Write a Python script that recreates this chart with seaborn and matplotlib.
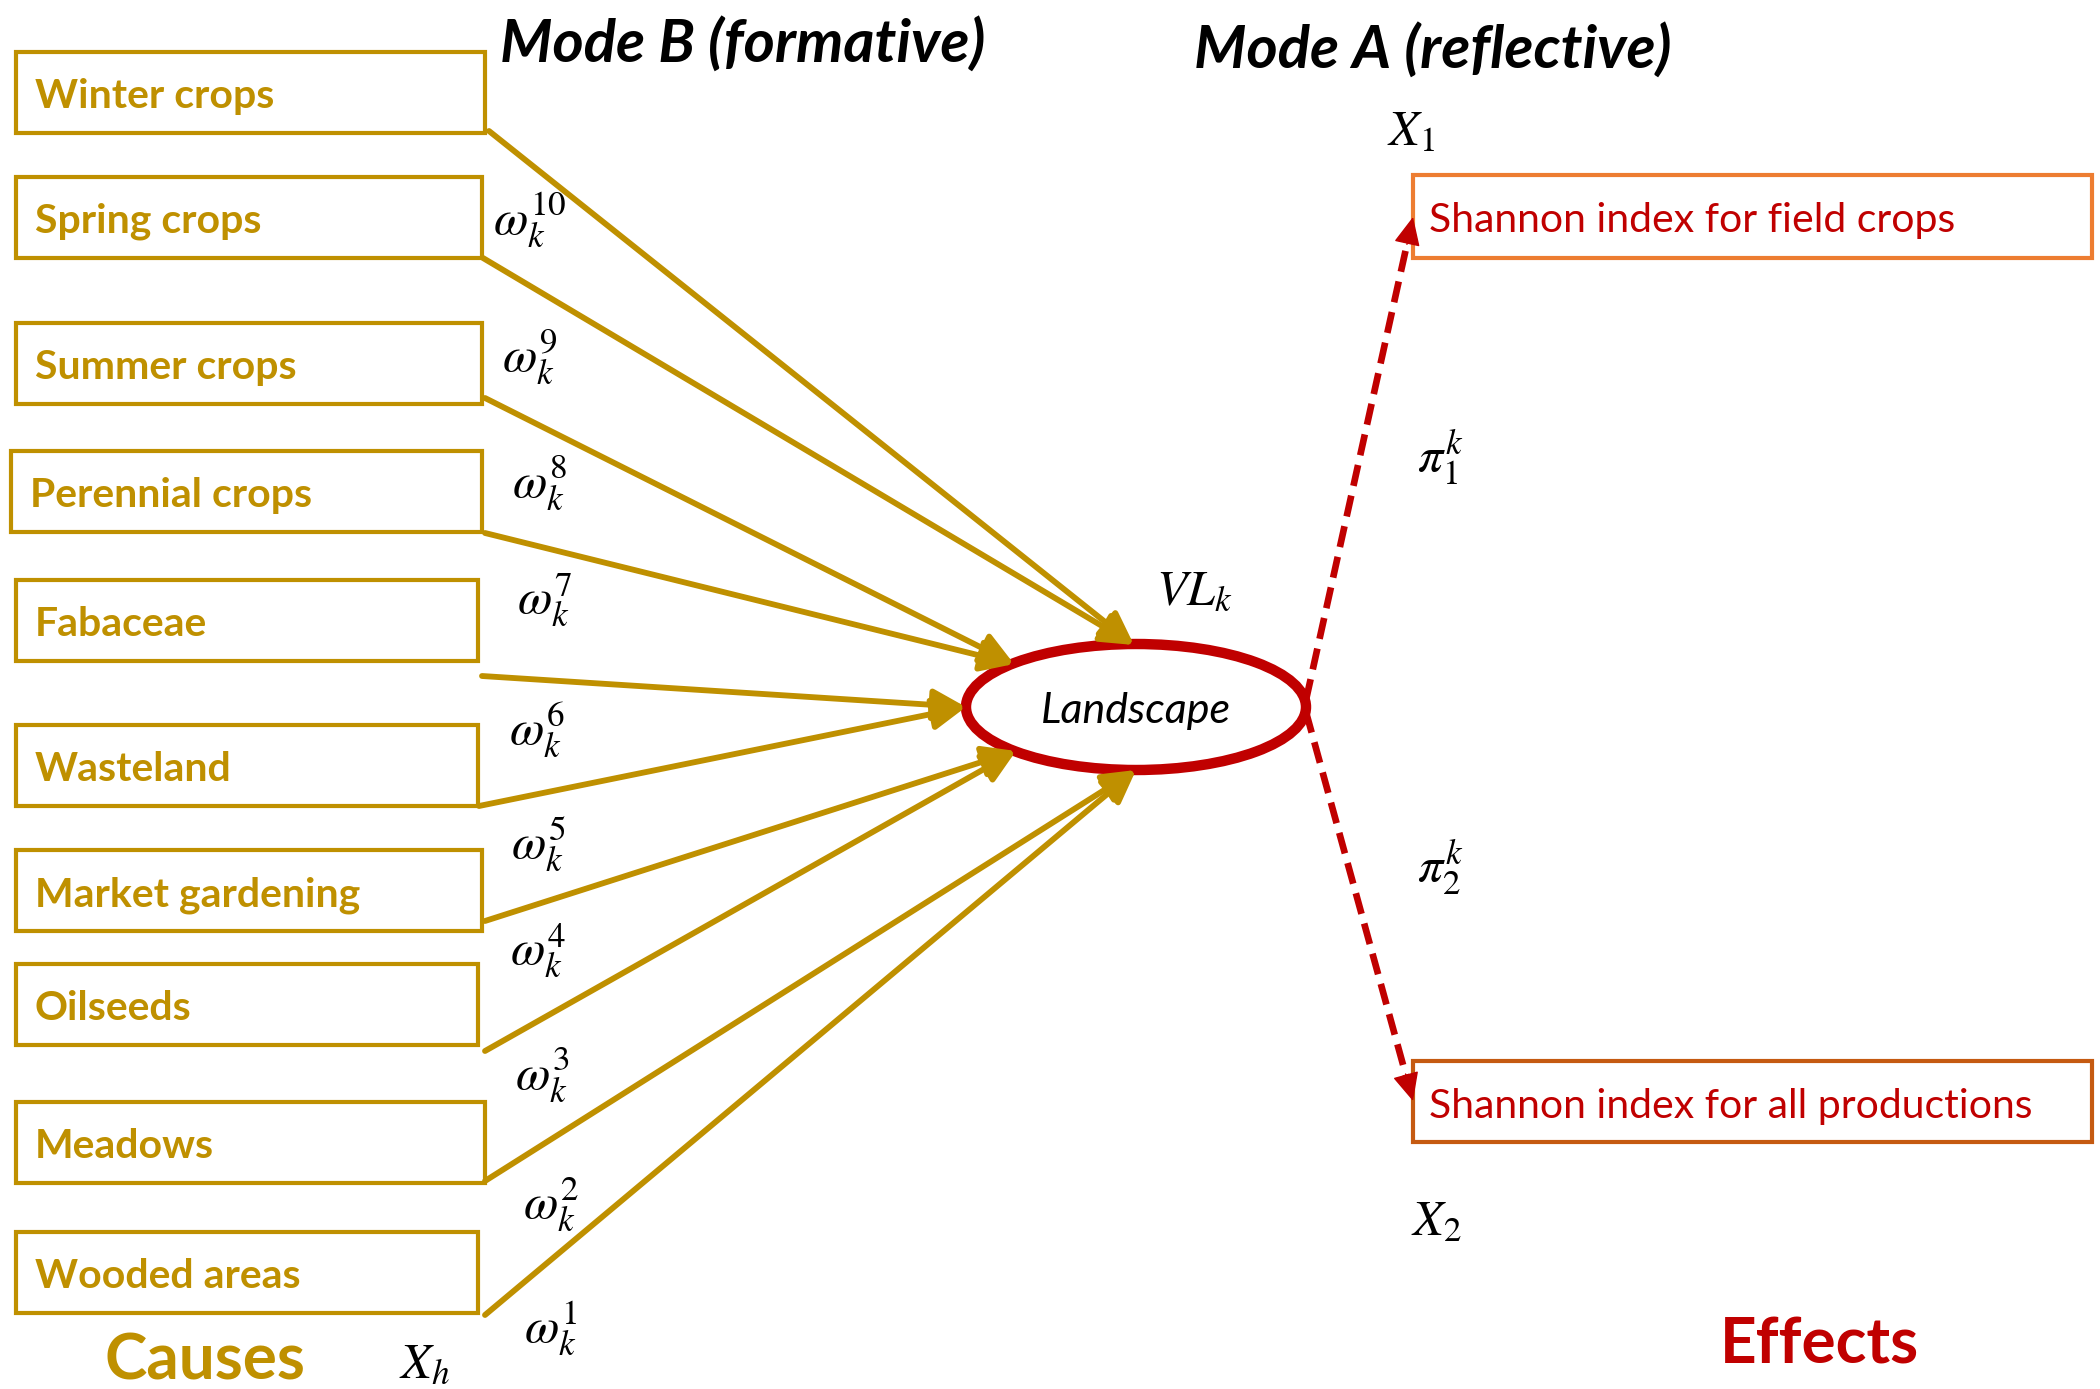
import matplotlib.pyplot as plt
import seaborn as sns
from matplotlib.patches import Rectangle, Ellipse
import numpy as np

# diagram content
causes = ["Winter crops", "Spring crops", "Summer crops", "Perennial crops",
          "Fabaceae", "Wasteland", "Market gardening", "Oilseeds",
          "Meadows", "Wooded areas"]
weights = [r"$\omega_k^{10}$", r"$\omega_k^{9}$", r"$\omega_k^{8}$", r"$\omega_k^{7}$",
           r"$\omega_k^{6}$", r"$\omega_k^{5}$", r"$\omega_k^{4}$", r"$\omega_k^{3}$",
           r"$\omega_k^{2}$", r"$\omega_k^{1}$"]
effects = ["Shannon index for field crops", "Shannon index for all productions"]
loadings = [r"$\pi_1^k$", r"$\pi_2^k$"]
indicators = [r"$X_1$", r"$X_2$"]
latent = "Landscape"

# layout, in pixels of the 2100 x 1389 canvas (y grows downwards)
cause_left = [16, 16, 16, 11, 16, 16, 16, 16, 16, 16]
cause_right = [485, 482, 482, 482, 478, 478, 482, 478, 485, 478]
cause_top = [52, 177, 323, 451, 580, 725, 850, 964, 1102, 1232]
box_h = 81
line_start = [(489, 131), (483, 258), (485, 398), (485, 533), (482, 676),
              (479, 806), (485, 921), (485, 1051), (485, 1181), (485, 1315)]
tips = {"A": (1134, 645), "B": (1014, 664), "C": (966, 707),
        "D": (1016, 751), "E": (1136, 770)}
tip_of = ["A", "A", "B", "B", "C", "C", "D", "D", "E", "E"]
weight_pos = [(530, 220), (530, 357), (540, 483), (545, 600), (537, 730),
              (538, 844), (538, 951), (542, 1075), (551, 1204), (551, 1328)]

ell_center, ell_w, ell_h = (1136, 707), 340, 126
effect_box = [(1413, 175, 2092, 258), (1413, 1061, 2092, 1142)]
effect_edge = ["#ED7D31", "#C55A11"]
loading_pos = [(1440, 458), (1440, 868)]
indicator_pos = [(1411, 131), (1436, 1221)]
dash_start = [(1306, 700), (1306, 712)]
dash_tip = [(1413, 217), (1413, 1101)]

GOLD = "#BF9000"
RED = "#C00000"
MATH_SIZE = 36

sns.set_theme(style="white")
plt.rcParams["font.family"] = ["Lato", "DejaVu Sans"]
plt.rcParams["mathtext.fontset"] = "stix"

fig = plt.figure(figsize=(21, 13.89), dpi=100)
ax = fig.add_axes([0, 0, 1, 1])
ax.set_xlim(0, 2100)
ax.set_ylim(1389, 0)
ax.axis("off")

# titles
ax.text(500, 62, "Mode B (formative)", fontsize=43, fontweight="bold",
        fontstyle="italic", color="black", ha="left", va="baseline")
ax.text(1194, 68, "Mode A (reflective)", fontsize=43, fontweight="bold",
        fontstyle="italic", color="black", ha="left", va="baseline")

# cause boxes, formative arrows and weights
for i, name in enumerate(causes):
    x0, x1, y0 = cause_left[i], cause_right[i], cause_top[i]
    ax.add_patch(Rectangle((x0, y0), x1 - x0, box_h, fill=False,
                           edgecolor=GOLD, lw=3, zorder=2))
    ax.text(x0 + 19, y0 + 56, name, fontsize=29.5, fontweight="bold",
            color=GOLD, ha="left", va="baseline")
    ax.annotate("", xy=tips[tip_of[i]], xytext=line_start[i],
                arrowprops=dict(arrowstyle="-|>,head_length=1.0,head_width=0.48",
                                mutation_scale=20, color=GOLD, lw=4.2,
                                shrinkA=0, shrinkB=0), zorder=4)
    ax.text(*weight_pos[i], weights[i], fontsize=MATH_SIZE, color="black",
            ha="center", va="center")

ax.text(424, 1363, r"$X_h$", fontsize=MATH_SIZE, color="black",
        ha="center", va="center")
ax.text(205, 1380, "Causes", fontsize=46, fontweight="bold", color=GOLD,
        ha="center", va="baseline")

# latent variable
ax.add_patch(Ellipse(ell_center, ell_w, ell_h, facecolor="white",
                     edgecolor=RED, lw=7.5, zorder=3))
ax.text(ell_center[0], 723, latent, fontsize=31, fontstyle="italic",
        color="black", ha="center", va="baseline", zorder=5)
ax.text(1194, 590, r"$VL_k$", fontsize=MATH_SIZE, color="black",
        ha="center", va="center")

# reflective side
for j, label in enumerate(effects):
    x0, y0, x1, y1 = effect_box[j]
    ax.add_patch(Rectangle((x0, y0), x1 - x0, y1 - y0, fill=False,
                           edgecolor=effect_edge[j], lw=3, zorder=2))
    ax.text(x0 + 16, y0 + 57, label, fontsize=29.5, color=RED,
            ha="left", va="baseline")
    sx, sy = dash_start[j]
    tx, ty = dash_tip[j]
    d = np.hypot(tx - sx, ty - sy)
    ux, uy = (tx - sx) / d, (ty - sy) / d
    ax.plot([sx, tx - ux * 20], [sy, ty - uy * 20], color=RED, lw=4.8,
            dashes=(3.2, 1.5), solid_capstyle="butt", zorder=4)
    ax.annotate("", xy=(tx, ty), xytext=(tx - ux * 28, ty - uy * 28),
                arrowprops=dict(arrowstyle="-|>,head_length=0.9,head_width=0.42",
                                mutation_scale=20, color=RED, lw=1,
                                shrinkA=0, shrinkB=0), zorder=4)
    ax.text(*loading_pos[j], loadings[j], fontsize=MATH_SIZE, color="black",
            ha="center", va="center")
    ax.text(*indicator_pos[j], indicators[j], fontsize=MATH_SIZE, color="black",
            ha="center", va="center")

ax.text(1819, 1363, "Effects", fontsize=46, fontweight="bold", color=RED,
        ha="center", va="baseline")

fig.savefig("out.png", dpi=100, facecolor="white")
